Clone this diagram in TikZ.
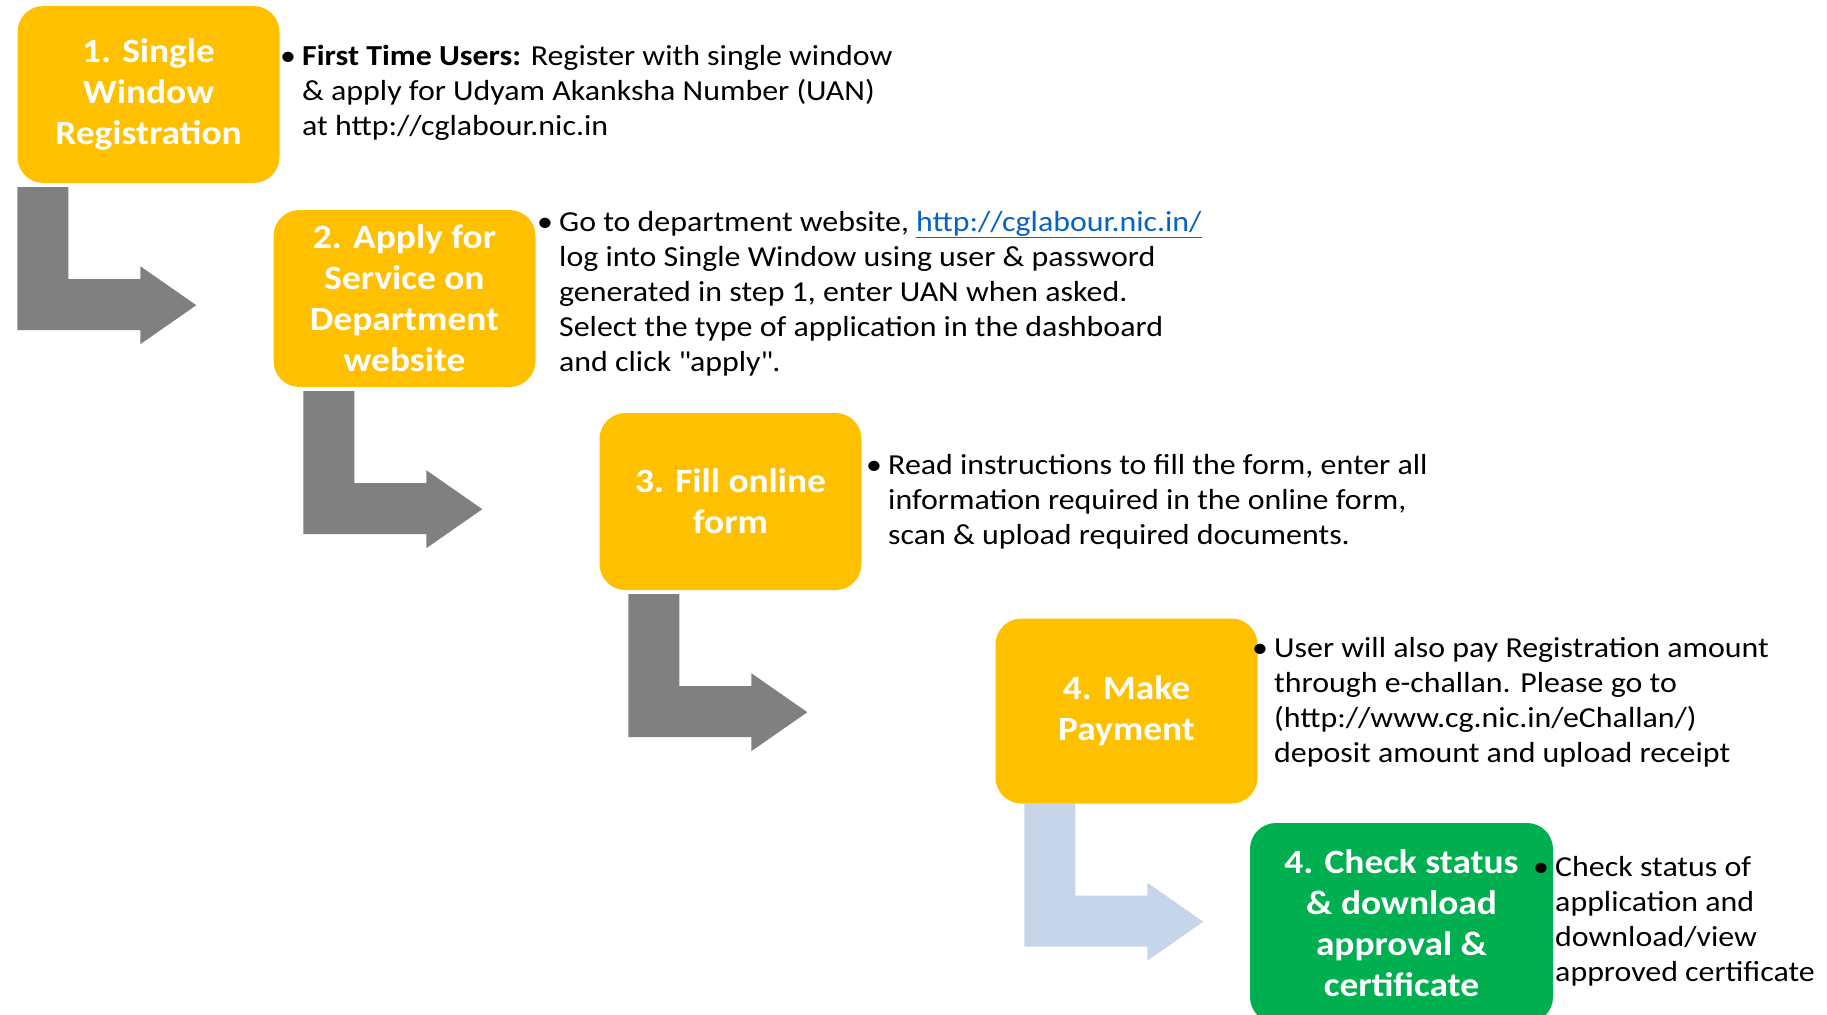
\documentclass[tikz,border=0pt]{standalone}
\usepackage{fontspec}
\setmainfont{Carlito}[FakeStretch=1.1]

\definecolor{stepyellow}{HTML}{FFC000}
\definecolor{stepgreen}{HTML}{00B050}
\definecolor{arrowgray}{HTML}{808080}
\definecolor{arrowblue}{HTML}{C6D5EA}
\definecolor{linkblue}{HTML}{0563C1}

\newcommand{\bul}{\makebox[22pt][l]{\textbullet}}

\tikzset{
    bentarrow/.pic={
        \fill[pic actions] (0,0) -- (51,0) -- (51,92) -- (123,92) -- (123,79) -- (179,118) -- (123,157) -- (123,143) -- (0,143) -- cycle;
    }
}

\begin{document}
\begin{tikzpicture}[x=1pt, y=-1pt,
        stepbox/.style={rounded corners=26pt, fill=stepyellow, text=white, align=center, inner sep=0pt,
            minimum width=262pt, minimum height=177pt, font=\bfseries\fontsize{34}{41}\selectfont},
        info/.style={anchor=north west, inner sep=0pt, font=\fontsize{29}{35}\selectfont}]
    \useasboundingbox (0,0) rectangle (1827,1014);
    \clip (0,0) rectangle (1827,1014);

    \node[stepbox] (s1) at (148.5,94.5) {1. Single\\Window\\Registration};
    \node[stepbox] (s2) at (404.5,298.5) {2. Apply for\\Service on\\Department\\website};
    \node[stepbox] (s3) at (730.5,501.5) {3. Fill online\\form};
    \node[stepbox, minimum height=185pt] (s4) at (1126.5,711) {4. Make\\Payment};
    \node[stepbox, fill=stepgreen, minimum width=303pt, minimum height=200pt] (s5) at (1401.5,923) {4. Check status\\\& download\\approval \&\\certificate};

    \pic[fill=arrowgray] at ([yshift=-4pt]s1.south west) {bentarrow};
    \pic[fill=arrowgray] at ([xshift=30pt, yshift=-4pt]s2.south west) {bentarrow};
    \pic[fill=arrowgray] at ([xshift=29pt, yshift=-4pt]s3.south west) {bentarrow};
    \pic[fill=arrowblue] at ([xshift=29pt]s4.south west) {bentarrow};

    \node[info] (d1) at (280,40.5) {\begin{tabular}{@{}l@{}l@{}}
        \bul & \textbf{First Time Users:} Register with single window\\
        & \& apply for Udyam Akanksha Number (UAN)\\
        & at http://cglabour.nic.in
    \end{tabular}};
    \node[info] (d2) at (537,206.5) {\begin{tabular}{@{}l@{}l@{}}
        \bul & Go to department website, \textcolor{linkblue}{\underline{http://cglabour.nic.in/}}\\
        & log into Single Window using user \& password\\
        & generated in step 1, enter UAN when asked.\\
        & Select the type of application in the dashboard\\
        & and click \textquotedbl apply\textquotedbl.
    \end{tabular}};
    \node[info] (d3) at (866,450) {\begin{tabular}{@{}l@{}l@{}}
        \bul & Read instructions to fill the form, enter all\\
        & information required in the online form,\\
        & scan \& upload required documents.
    \end{tabular}};
    \node[info] (d4) at (1252,633) {\begin{tabular}{@{}l@{}l@{}}
        \bul & User will also pay Registration amount\\
        & through e-challan. Please go to\\
        & (http://www.cg.nic.in/eChallan/)\\
        & deposit amount and upload receipt
    \end{tabular}};
    \node[info] (d5) at (1533,852) {\begin{tabular}{@{}l@{}l@{}}
        \bul & Check status of\\
        & application and\\
        & download/view\\
        & approved certificate
    \end{tabular}};
\end{tikzpicture}
\end{document}
